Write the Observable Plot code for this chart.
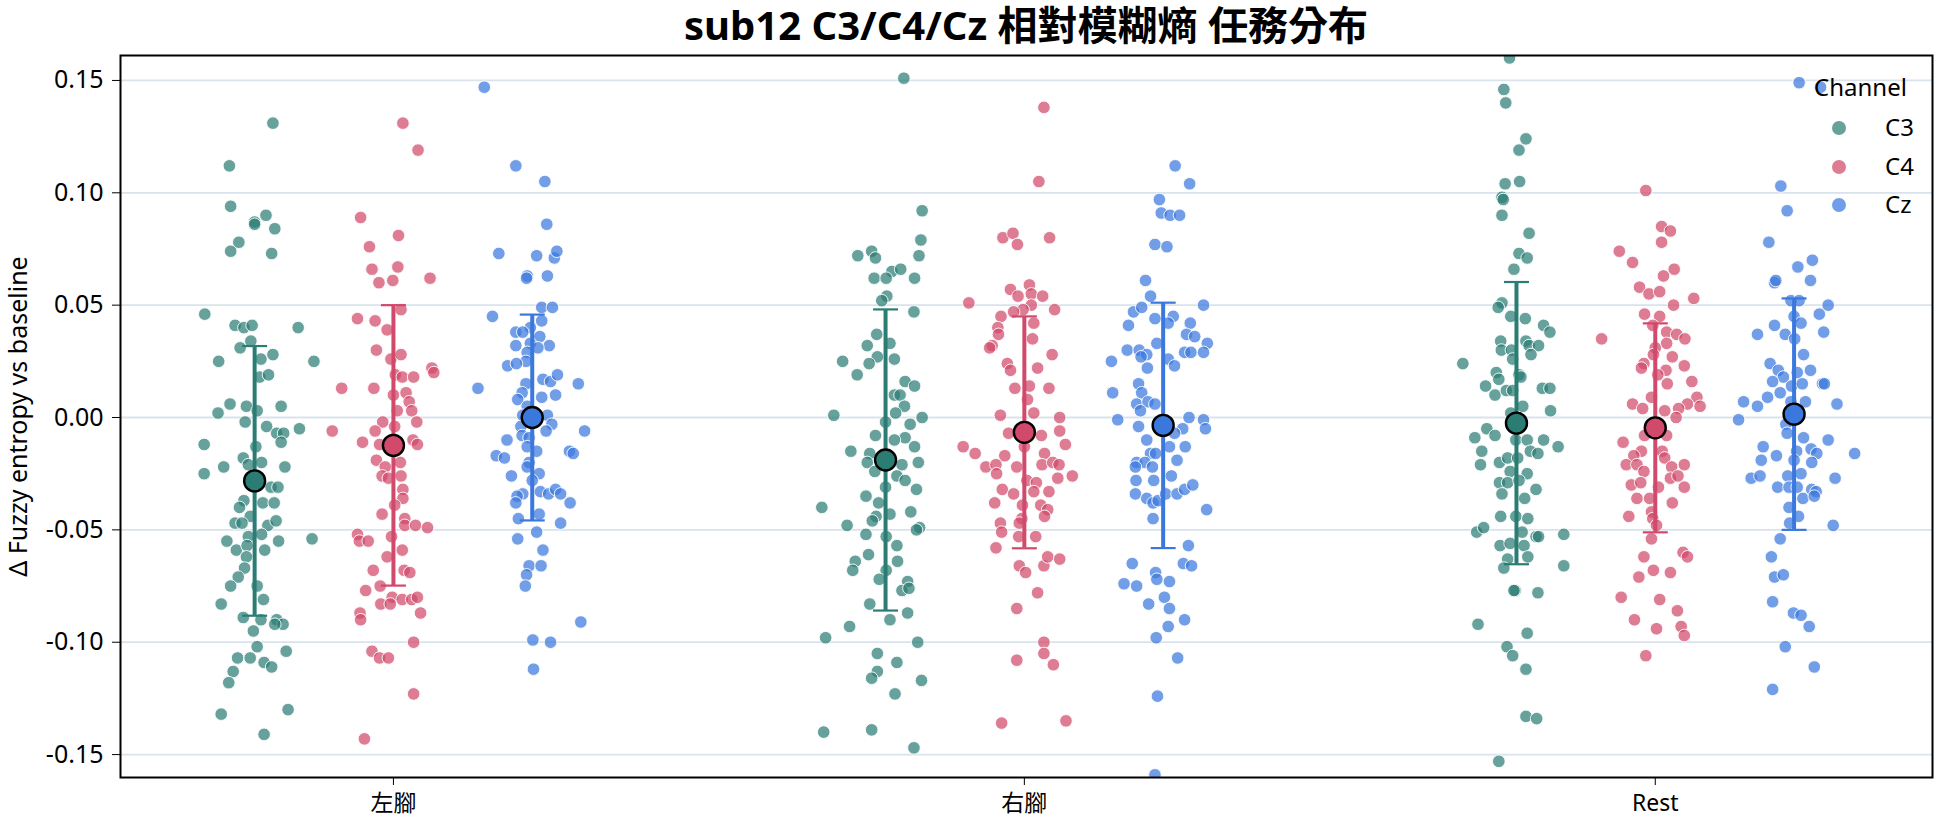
<!DOCTYPE html>
<html>
<head>
<meta charset="utf-8">
<script src="https://cdn.jsdelivr.net/npm/d3@7"></script>
<script src="https://cdn.jsdelivr.net/npm/@observablehq/plot@0.6"></script>
<style>
  body { margin: 0; background: #fff; }
  #wrap { position: relative; width: 1944px; height: 827px; font-family: "Noto Sans", "Noto Sans CJK TC", sans-serif; color: #000; }
  #title { box-sizing: border-box; height: 46px; padding-left: 120px; padding-right: 12px; text-align: center; font-size: 40px; font-weight: bold; line-height: 50px; white-space: nowrap; }
  #chart svg { display: block; }
  .lg { position: absolute; font-size: 24px; line-height: 1; white-space: nowrap; }
  .lgdot { position: absolute; border-radius: 50%; }
</style>
</head>
<body>
<div id="wrap">
  <div id="title">sub12 C3/C4/Cz 相對模糊熵 任務分布</div>
  <div id="chart"></div>
</div>
<script>
const tasks = ["左腳", "右腳", "Rest"];
const channels = ["C3", "C4", "Cz"];
const colors = ["#2b7d74", "#d1496b", "#3b78de"];
const yTicks = [-0.15, -0.10, -0.05, 0.00, 0.05, 0.10, 0.15];

// Per-point Δ fuzzy entropy values, and horizontal jitter (category units)
const L_C3 = [0.131,0.112,0.094,0.087,0.086,0.090,0.084,0.078,0.074,0.073,0.046,0.041,0.040,0.041,0.040,0.034,0.031,0.025,0.026,0.028,0.025,0.018,0.019,0.006,0.002,0.005,0.003,0.005,-0.002,-0.004,-0.007,-0.007,-0.005,-0.011,-0.012,-0.013,-0.022,-0.025,-0.018,-0.021,-0.020,-0.022,-0.031,-0.031,-0.037,-0.038,-0.038,-0.040,-0.044,-0.047,-0.047,-0.048,-0.046,-0.053,-0.052,-0.055,-0.059,-0.057,-0.059,-0.055,-0.054,-0.062,-0.067,-0.071,-0.075,-0.075,-0.081,-0.083,-0.089,-0.090,-0.090,-0.092,-0.092,-0.095,-0.102,-0.107,-0.107,-0.109,-0.111,-0.104,-0.113,-0.118,-0.132,-0.130,-0.141];
const L_C3_j = [0.029,-0.040,-0.038,0.000,0.000,0.018,0.032,-0.025,-0.038,0.027,-0.079,-0.031,-0.017,-0.004,0.069,-0.006,-0.023,-0.057,0.010,0.029,0.094,0.008,0.022,-0.039,-0.058,-0.013,0.004,0.042,-0.015,0.019,0.035,0.046,0.071,0.042,-0.080,0.002,-0.049,-0.080,-0.018,-0.010,0.011,0.048,0.026,0.037,-0.017,0.013,0.031,-0.024,-0.007,-0.031,-0.020,0.021,0.034,-0.010,0.011,-0.044,-0.029,-0.012,0.016,0.038,0.091,-0.013,-0.016,-0.026,-0.038,0.004,0.014,-0.053,-0.018,0.010,0.035,0.045,0.032,-0.002,0.004,-0.027,-0.007,0.015,0.027,0.050,-0.034,-0.041,-0.053,0.053,0.015];

const L_C4 = [0.131,0.119,0.089,0.081,0.076,0.066,0.067,0.060,0.061,0.062,0.048,0.044,0.043,0.039,0.030,0.026,0.028,0.022,0.020,0.013,0.013,0.019,0.018,0.018,0.010,0.011,0.007,0.003,0.003,-0.002,-0.002,-0.004,-0.006,-0.011,-0.006,-0.012,-0.010,-0.012,-0.019,-0.022,-0.020,-0.026,-0.027,-0.026,-0.032,-0.036,-0.039,-0.043,-0.045,-0.048,-0.048,-0.049,-0.052,-0.055,-0.055,-0.053,-0.059,-0.062,-0.068,-0.068,-0.069,-0.075,-0.077,-0.080,-0.083,-0.083,-0.081,-0.081,-0.080,-0.087,-0.090,-0.087,-0.100,-0.104,-0.107,-0.107,-0.123,-0.143];
const L_C4_j = [0.015,0.039,-0.052,0.008,-0.038,-0.034,0.007,-0.023,-0.001,0.058,0.012,-0.057,-0.029,-0.010,-0.027,-0.004,0.012,0.061,0.064,-0.082,-0.031,0.003,0.014,0.032,0.000,0.020,0.025,0.029,0.006,0.037,-0.017,0.002,-0.097,-0.049,-0.029,-0.022,0.031,0.038,-0.027,-0.013,0.011,-0.018,-0.008,0.012,0.015,0.015,0.002,-0.018,0.018,0.018,0.035,0.054,-0.057,-0.054,-0.040,-0.003,0.014,-0.010,-0.032,0.017,0.026,-0.021,-0.044,-0.002,-0.020,-0.005,0.014,0.029,0.038,-0.053,-0.052,0.043,0.032,-0.034,-0.022,-0.008,0.032,-0.046];

const L_Cz = [0.147,0.112,0.105,0.086,0.073,0.072,0.071,0.074,0.063,0.062,0.063,0.049,0.049,0.045,0.043,0.040,0.038,0.038,0.036,0.033,0.032,0.032,0.031,0.029,0.025,0.023,0.024,0.013,0.017,0.016,0.019,0.015,0.015,0.011,0.008,0.009,0.010,0.005,0.001,0.001,-0.003,-0.004,-0.006,-0.008,-0.006,-0.009,-0.010,-0.013,-0.015,-0.017,-0.018,-0.015,-0.016,-0.020,-0.022,-0.026,-0.025,-0.028,-0.034,-0.035,-0.033,-0.034,-0.032,-0.034,-0.038,-0.038,-0.043,-0.045,-0.047,-0.051,-0.054,-0.059,-0.066,-0.066,-0.070,-0.075,-0.091,-0.099,-0.100,-0.112];
const L_Cz_j = [-0.076,-0.026,0.020,0.023,-0.053,0.007,0.035,0.039,-0.008,-0.009,0.024,0.015,0.032,-0.063,0.015,-0.003,-0.026,-0.015,0.012,-0.003,-0.026,0.027,0.009,-0.008,-0.010,-0.039,-0.025,-0.086,0.017,0.029,0.040,0.073,-0.010,-0.016,-0.023,0.015,0.037,-0.008,0.024,-0.015,0.031,-0.018,0.083,-0.016,0.022,-0.005,-0.040,-0.008,0.007,-0.057,-0.044,0.059,0.065,-0.005,-0.008,-0.033,0.011,0.000,-0.015,-0.024,0.013,0.026,0.037,0.045,0.060,-0.026,0.011,-0.022,0.045,0.007,-0.023,0.017,-0.005,0.014,-0.009,-0.011,0.077,0.001,0.029,0.002];

const R_C3 = [0.151,0.092,0.079,0.072,0.072,0.074,0.071,0.065,0.066,0.062,0.062,0.062,0.054,0.052,0.047,0.037,0.033,0.032,0.025,0.027,0.026,0.024,0.019,0.016,0.014,0.010,0.010,0.005,0.002,0.001,0.000,-0.003,-0.002,-0.008,-0.009,-0.010,-0.013,-0.015,-0.016,-0.020,-0.024,-0.021,-0.020,-0.026,-0.028,-0.031,-0.032,-0.035,-0.038,-0.043,-0.042,-0.044,-0.046,-0.048,-0.049,-0.050,-0.052,-0.053,-0.040,-0.057,-0.064,-0.064,-0.068,-0.061,-0.068,-0.072,-0.073,-0.077,-0.076,-0.083,-0.087,-0.090,-0.093,-0.098,-0.100,-0.105,-0.109,-0.113,-0.116,-0.117,-0.123,-0.140,-0.139,-0.147];
const R_C3_j = [0.029,0.058,0.056,0.053,-0.044,-0.022,-0.016,0.010,0.024,-0.018,0.001,0.046,0.002,-0.006,0.045,-0.014,0.007,-0.029,-0.068,-0.013,0.014,-0.026,-0.045,0.031,0.046,0.014,0.023,0.030,0.016,-0.082,0.058,0.039,0.000,-0.016,0.031,0.014,0.046,-0.055,-0.025,-0.029,-0.017,0.026,0.052,0.018,0.031,0.000,0.049,-0.031,-0.011,0.007,0.040,-0.015,-0.021,-0.061,0.054,0.049,-0.031,0.001,-0.101,0.018,0.019,-0.048,-0.052,-0.027,0.001,-0.010,0.035,0.026,0.037,-0.025,0.035,0.007,-0.057,-0.095,0.051,-0.013,0.018,-0.013,-0.022,0.057,0.015,-0.098,-0.022,0.045];

const R_C4 = [0.138,0.105,0.080,0.082,0.077,0.080,0.057,0.059,0.054,0.055,0.054,0.050,0.048,0.051,0.047,0.048,0.045,0.040,0.042,0.037,0.032,0.035,0.031,0.028,0.024,0.021,0.022,0.013,0.014,0.013,0.008,0.002,0.001,0.000,-0.006,-0.007,-0.008,-0.012,-0.013,-0.016,-0.013,-0.017,-0.016,-0.022,-0.021,-0.025,-0.022,-0.021,-0.020,-0.021,-0.026,-0.027,-0.028,-0.029,-0.032,-0.034,-0.033,-0.033,-0.038,-0.039,-0.039,-0.041,-0.044,-0.045,-0.047,-0.051,-0.047,-0.053,-0.053,-0.058,-0.066,-0.069,-0.066,-0.062,-0.063,-0.078,-0.085,-0.100,-0.105,-0.108,-0.110,-0.136,-0.135];
const R_C4_j = [0.031,0.023,-0.034,-0.018,-0.011,0.040,-0.022,0.008,-0.010,0.011,0.029,0.011,-0.002,-0.088,-0.017,0.048,-0.037,-0.042,0.015,-0.041,-0.051,0.013,-0.055,0.044,-0.027,-0.022,0.021,-0.015,0.008,0.039,0.005,0.015,-0.038,0.056,0.056,-0.025,0.027,0.065,-0.097,-0.078,0.000,-0.031,0.032,-0.061,-0.045,-0.044,-0.012,0.028,0.045,0.055,0.076,0.053,0.004,0.019,-0.035,-0.017,0.015,0.039,-0.047,-0.003,0.026,0.037,0.032,-0.004,-0.038,-0.036,-0.008,-0.009,0.018,-0.045,-0.008,0.002,0.031,0.037,0.056,0.021,-0.012,0.031,0.031,-0.012,0.046,-0.036,0.066];

const R_Cz = [0.112,0.104,0.097,0.091,0.090,0.090,0.077,0.076,0.061,0.054,0.047,0.049,0.050,0.044,0.045,0.042,0.041,0.042,0.037,0.036,0.033,0.033,0.030,0.030,0.028,0.029,0.029,0.029,0.025,0.027,0.026,0.023,0.022,0.011,0.015,0.011,0.006,0.007,0.003,0.006,-0.001,0.000,-0.001,-0.004,-0.005,-0.005,-0.007,-0.010,-0.013,-0.013,-0.016,-0.016,-0.019,-0.020,-0.020,-0.022,-0.022,-0.026,-0.028,-0.028,-0.034,-0.036,-0.038,-0.037,-0.034,-0.034,-0.032,-0.030,-0.041,-0.045,-0.057,-0.065,-0.065,-0.066,-0.074,-0.075,-0.069,-0.072,-0.073,-0.080,-0.083,-0.085,-0.093,-0.090,-0.098,-0.107,-0.124,-0.159];
const R_Cz_j = [0.019,0.042,-0.006,-0.003,0.011,0.026,-0.013,0.006,-0.028,-0.020,-0.047,-0.034,0.064,-0.013,0.016,0.008,-0.055,0.043,0.037,0.050,0.070,-0.010,-0.057,-0.038,-0.026,0.034,0.044,0.064,-0.082,-0.035,0.008,0.018,-0.025,-0.080,-0.039,-0.034,-0.042,-0.024,-0.036,-0.013,-0.072,0.041,0.064,-0.039,0.031,0.067,0.018,-0.026,0.010,0.035,-0.020,-0.012,0.022,-0.042,-0.029,-0.017,-0.044,0.013,-0.043,-0.015,-0.044,-0.026,-0.016,-0.008,0.004,0.022,0.034,0.047,0.069,-0.016,0.040,-0.049,0.032,0.045,-0.062,-0.042,-0.012,-0.010,0.010,0.002,-0.023,0.010,0.008,0.034,-0.011,0.023,-0.009,-0.013];

const S_C3 = [0.160,0.146,0.140,0.124,0.119,0.104,0.105,0.098,0.097,0.090,0.082,0.073,0.071,0.066,0.051,0.049,0.045,0.044,0.041,0.038,0.034,0.034,0.032,0.032,0.030,0.030,0.028,0.026,0.024,0.020,0.017,0.019,0.018,0.014,0.010,0.012,0.012,0.013,0.013,0.005,0.003,0.002,-0.005,-0.009,-0.008,-0.010,-0.010,-0.010,-0.013,-0.015,-0.021,-0.015,-0.016,-0.020,-0.018,-0.018,-0.024,-0.025,-0.029,-0.029,-0.028,-0.034,-0.032,-0.036,-0.044,-0.044,-0.045,-0.051,-0.049,-0.051,-0.053,-0.053,-0.052,-0.057,-0.056,-0.057,-0.062,-0.063,-0.067,-0.066,-0.077,-0.077,-0.078,-0.092,-0.096,-0.102,-0.106,-0.112,-0.133,-0.134,-0.153];
const S_C3_j = [-0.011,-0.020,-0.017,0.015,0.004,-0.018,0.005,-0.023,-0.021,-0.023,0.020,0.004,0.017,-0.004,-0.023,-0.029,-0.009,0.014,0.043,0.053,-0.025,0.015,0.020,0.035,-0.024,-0.008,0.023,-0.006,-0.085,-0.032,-0.028,0.004,0.007,-0.049,-0.034,-0.016,-0.006,0.041,0.053,0.010,0.054,-0.009,-0.047,-0.066,-0.034,-0.001,0.017,0.043,0.066,-0.055,-0.057,0.022,0.034,-0.027,-0.014,0.002,-0.010,0.017,-0.027,-0.014,0.004,-0.023,0.031,0.013,-0.025,-0.001,0.018,-0.063,-0.052,0.009,0.031,0.035,0.075,-0.026,-0.010,0.012,0.018,-0.014,-0.020,0.075,-0.002,-0.004,0.034,-0.061,0.017,-0.015,-0.006,0.015,0.015,0.032,-0.028];

const S_C4 = [0.101,0.085,0.083,0.078,0.074,0.069,0.066,0.063,0.058,0.055,0.056,0.053,0.050,0.046,0.045,0.041,0.035,0.038,0.037,0.035,0.033,0.031,0.028,0.027,0.024,0.022,0.023,0.021,0.019,0.015,0.016,0.009,0.009,0.005,0.006,0.006,0.004,0.003,0.004,0.000,-0.011,-0.008,-0.008,-0.015,-0.015,-0.017,-0.021,-0.021,-0.018,-0.021,-0.022,-0.024,-0.027,-0.026,-0.030,-0.029,-0.031,-0.031,-0.036,-0.036,-0.038,-0.044,-0.042,-0.045,-0.048,-0.054,-0.060,-0.062,-0.062,-0.068,-0.069,-0.071,-0.080,-0.081,-0.086,-0.090,-0.094,-0.093,-0.097,-0.106];
const S_C4_j = [-0.015,0.010,0.024,0.010,-0.057,-0.036,0.030,0.013,-0.025,-0.010,0.007,0.061,0.029,-0.017,0.007,-0.004,-0.085,0.018,0.034,0.047,0.018,0.000,-0.003,0.027,-0.018,-0.022,0.046,0.017,0.004,0.019,0.058,-0.006,0.066,0.071,0.051,-0.036,-0.020,0.015,0.037,0.033,-0.051,-0.017,0.018,-0.022,0.011,-0.034,-0.046,-0.029,0.015,0.046,0.026,-0.018,0.024,0.036,-0.038,-0.023,0.005,0.046,-0.029,-0.009,0.027,-0.042,-0.006,-0.004,0.002,-0.006,0.044,0.051,-0.018,-0.003,0.024,-0.026,-0.054,0.007,0.035,-0.033,0.002,0.041,0.046,-0.015];

const S_Cz = [0.149,0.147,0.103,0.092,0.078,0.067,0.070,0.060,0.061,0.061,0.052,0.052,0.050,0.046,0.045,0.042,0.037,0.041,0.037,0.038,0.035,0.028,0.024,0.021,0.018,0.020,0.021,0.016,0.011,0.014,0.015,0.015,0.015,0.009,0.007,0.007,0.007,0.005,0.006,-0.001,-0.003,-0.007,-0.009,-0.010,-0.013,-0.019,-0.017,-0.015,-0.014,-0.016,-0.016,-0.019,-0.020,-0.027,-0.026,-0.026,-0.025,-0.027,-0.031,-0.031,-0.031,-0.032,-0.033,-0.036,-0.035,-0.040,-0.044,-0.047,-0.048,-0.054,-0.062,-0.071,-0.070,-0.082,-0.087,-0.088,-0.093,-0.102,-0.111,-0.121];
const S_Cz_j = [0.008,0.042,-0.021,-0.011,-0.040,0.006,0.029,-0.031,-0.029,0.026,-0.005,0.008,0.054,0.040,0.000,0.011,-0.058,-0.031,-0.014,0.047,0.001,0.015,-0.038,-0.025,-0.017,0.005,0.026,-0.034,-0.022,-0.004,0.013,0.045,0.048,-0.042,-0.005,0.018,-0.080,-0.058,0.068,-0.088,-0.013,-0.011,0.015,0.054,-0.049,-0.052,-0.028,0.004,0.027,0.036,0.096,0.000,0.028,-0.068,-0.054,-0.010,0.011,0.065,-0.026,-0.008,0.005,0.028,0.035,0.014,0.032,-0.008,0.007,-0.007,0.062,-0.022,-0.036,-0.031,-0.017,-0.034,-0.001,0.011,0.024,-0.014,0.032,-0.034];

// Means and standard deviations per channel, for tasks [左腳, 右腳, Rest]
const meanC3 = [-0.0282, -0.0189, -0.0025];
const sdC3   = [0.0600, 0.0670, 0.0628];
const meanC4 = [-0.0124, -0.0066, -0.0046];
const sdC4   = [0.0624, 0.0516, 0.0465];
const meanCz = [0.0000, -0.0035, 0.0015];
const sdCz   = [0.0458, 0.0546, 0.0515];

// ---- build tables ----
const dodgeStep = 0.22;
const groups = [
  [[L_C3, L_C3_j], [L_C4, L_C4_j], [L_Cz, L_Cz_j]],
  [[R_C3, R_C3_j], [R_C4, R_C4_j], [R_Cz, R_Cz_j]],
  [[S_C3, S_C3_j], [S_C4, S_C4_j], [S_Cz, S_Cz_j]]
];
const means = [meanC3, meanC4, meanCz];
const sds = [sdC3, sdC4, sdCz];

const points = [];
const summary = [];
tasks.forEach((task, t) => {
  channels.forEach((ch, c) => {
    const [vals, jit] = groups[t][c];
    const n = Math.min(vals.length, jit.length);
    const center = t + (c - 1) * dodgeStep;
    for (let i = 0; i < n; i++) points.push({task, channel: ch, x: center + jit[i], y: vals[i]});
    const m = means[c][t], s = sds[c][t];
    summary.push({task, channel: ch, x: center, mean: m, lo: m - s, hi: m + s});
  });
});

const capSymbol = {
  draw(ctx, size) {
    const w = Math.sqrt(size / Math.PI);
    ctx.moveTo(-w, 0);
    ctx.lineTo(w, 0);
  }
};

const font = '"Noto Sans", "Noto Sans CJK TC", sans-serif';

const chart = Plot.plot({
  width: 1944,
  height: 781,
  marginTop: 9,
  marginBottom: 50,
  marginLeft: 120,
  marginRight: 12,
  style: {fontFamily: font, fontSize: "24px", color: "#000", background: "#fff", overflow: "visible"},
  x: {domain: [-0.4326, 2.4394]},
  y: {domain: [-0.1602, 0.1611]},
  color: {domain: channels, range: colors},
  marks: [
    Plot.gridY(yTicks, {stroke: "#d9e3ed", strokeOpacity: 1, strokeWidth: 1.8}),
    Plot.dot(points, {x: "x", y: "y", fill: "channel", fillOpacity: 0.72, stroke: "#fff", strokeWidth: 0.9, r: 6.3, clip: true}),
    Plot.ruleX(summary, {x: "x", y1: "lo", y2: "hi", stroke: "channel", strokeWidth: 4}),
    Plot.dot(summary, {x: "x", y: "lo", symbol: capSymbol, r: 12.5, fill: "none", stroke: "channel", strokeWidth: 2.2}),
    Plot.dot(summary, {x: "x", y: "hi", symbol: capSymbol, r: 12.5, fill: "none", stroke: "channel", strokeWidth: 2.2}),
    Plot.dot(summary, {x: "x", y: "mean", fill: "channel", stroke: "#000", strokeWidth: 2.4, r: 10.5}),
    Plot.axisX([0, 1, 2], {tickFormat: i => tasks[i], tickSize: 8, tickPadding: 9, label: null, fontSize: 23}),
    Plot.axisY(yTicks, {tickFormat: d => d.toFixed(2), tickSize: 8, tickPadding: 9, fontSize: 25,
      label: "Δ Fuzzy entropy vs baseline", labelAnchor: "center", labelArrow: "none", labelOffset: 111}),
    Plot.frame({stroke: "#000", strokeWidth: 2})
  ]
});
document.getElementById("chart").appendChild(chart);

// legend (inside the axes, top-right, no frame)
const wrap = document.getElementById("wrap");
const title = document.createElement("div");
title.className = "lg";
title.textContent = "Channel";
title.style.left = "1814px";
title.style.top = "75px";
wrap.appendChild(title);
channels.forEach((ch, i) => {
  const rowY = 128 + i * 38.5;
  const dot = document.createElement("div");
  dot.className = "lgdot";
  dot.style.background = colors[i];
  dot.style.opacity = 0.72;
  dot.style.left = (1839 - 7) + "px";
  dot.style.top = (rowY - 7) + "px";
  dot.style.width = "14px"; dot.style.height = "14px";
  wrap.appendChild(dot);
  const lab = document.createElement("div");
  lab.className = "lg";
  lab.textContent = ch;
  lab.style.left = "1885px";
  lab.style.top = (rowY - 13) + "px";
  wrap.appendChild(lab);
});
</script>
</body>
</html>
